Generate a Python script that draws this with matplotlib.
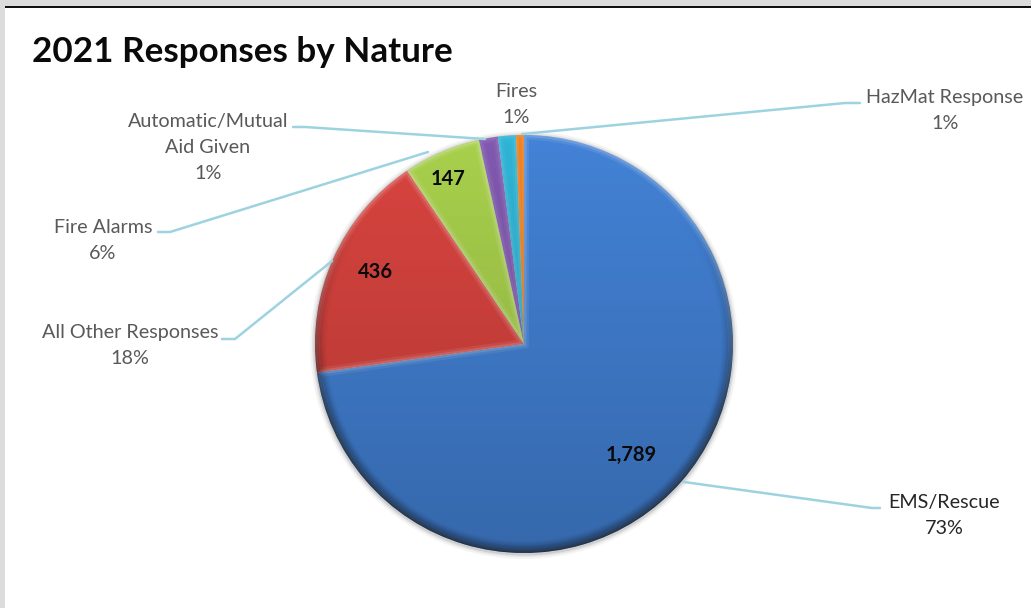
import numpy as np
import matplotlib
matplotlib.use('Agg')
import matplotlib.pyplot as plt
from matplotlib.patches import Rectangle, Circle, PathPatch

plt.rcParams['font.family'] = ['Lato', 'DejaVu Sans']

# 数据
categories = ['EMS/Rescue', 'All Other Responses', 'Fire Alarms',
              'Automatic/Mutual\nAid Given', 'Fires', 'HazMat Response']
values = [1789, 436, 147, 36, 34, 15]
percents = ['73%', '18%', '6%', '1%', '1%', '1%']
colors = ['#4382d6', '#d9443f', '#a8d04c', '#8159b0', '#2fb4d6', '#ee7f1c']
count_labels = ['1,789', '436', '147']

W, H = 1031, 608
CX, CY, R = 524, H - 344, 209


def py(y):
    # 图片坐标转为绘图坐标
    return H - y


fig = plt.figure(figsize=(W / 100, H / 100), dpi=100, facecolor='white')
ax = fig.add_axes([0, 0, 1, 1])

# 外框
ax.add_patch(Rectangle((0, 0), 5, H, color='#dcdcdc', lw=0, zorder=0))
ax.add_patch(Rectangle((0, py(6)), W, 6, color='#dcdcdc', lw=0, zorder=0))
ax.add_patch(Rectangle((5, py(8)), W, 2.5, color='#111111', lw=0, zorder=1))

# 阴影
for grow, a in [(5, 0.05), (3, 0.08), (1.5, 0.12)]:
    ax.add_patch(Circle((CX, CY - 1), R + grow, color='#333333', alpha=a, lw=0, zorder=1))

wedges, _ = ax.pie(values, colors=colors, startangle=90, counterclock=False,
                   center=(CX, CY), radius=R, frame=True,
                   wedgeprops={'linewidth': 0, 'zorder': 2})

# 渐变 上亮下暗 + 边缘变暗
n = 600
xx, yy = np.meshgrid(np.linspace(CX - R, CX + R, n), np.linspace(CY + R, CY - R, n))
rr = np.hypot(xx - CX, yy - CY) / R
shade = np.zeros((n, n, 4))
vert = np.clip((CY + R - yy) / (2 * R), 0, 1)
edge = np.clip((rr - 0.94) / 0.06, 0, 1) ** 1.5 * np.clip(vert * 2.2 - 0.45, 0, 1)
shade[..., 3] = np.clip(0.20 * vert + 0.50 * edge, 0, 1)

for w, c, v in zip(wedges, colors, values):
    # 斜面高光 小扇区减弱
    k = 1.0 if v > 100 else 0.5
    for lw, a in [(7, 0.09), (3.5, 0.15)]:
        hl = PathPatch(w.get_path(), fill=False, transform=w.get_transform(),
                       edgecolor='white', alpha=a * k, lw=lw, zorder=3)
        ax.add_patch(hl)
        hl.set_clip_path(w)
    im = ax.imshow(shade, extent=(CX - R, CX + R, CY - R, CY + R), zorder=4,
                   interpolation='bilinear', aspect='auto')
    im.set_clip_path(w)

# 引导线
leaders = [
    [(684, 482), (872, 508), (880, 508)],
    [(332, 261), (235, 339), (222, 339)],
    [(428, 152), (170, 232), (158, 232)],
    [(485, 139), (305, 127), (293, 127)],
    [(522, 134), (845, 103), (860, 103)],
]
for pts in leaders:
    xs = [p[0] for p in pts]
    ys = [py(p[1]) for p in pts]
    ax.plot(xs, ys, color='#9dd3e0', lw=1.8, zorder=5, solid_capstyle='round')

# 外部标签
label_pos = [(944, 515.5), (130, 345.5), (103, 240.5), (208, 147.5), (516, 104.5), (945, 110.5)]
for name, pct, (x, y) in zip(categories, percents, label_pos):
    col = '#262626' if name == 'EMS/Rescue' else '#595959'
    ax.text(x, py(y), name + '\n' + pct, ha='center', va='center', fontsize=14.2,
            color=col, linespacing=1.66, zorder=6)

# 数值标签
count_pos = [(631, 455), (376, 272), (448, 179)]
for t, (x, y) in zip(count_labels, count_pos):
    ax.text(x, py(y), t, ha='center', va='center', fontsize=14.5, fontweight='bold',
            color='#0a0a0a', zorder=6)

ax.text(32, py(52.5), '2021 Responses by Nature', ha='left', va='center', fontsize=25.2,
        fontweight='bold', color='#0a0a0a', zorder=6)

ax.set_xlim(0, W)
ax.set_ylim(0, H)
ax.set_aspect('auto')
ax.axis('off')

fig.savefig('out.png', dpi=100)
